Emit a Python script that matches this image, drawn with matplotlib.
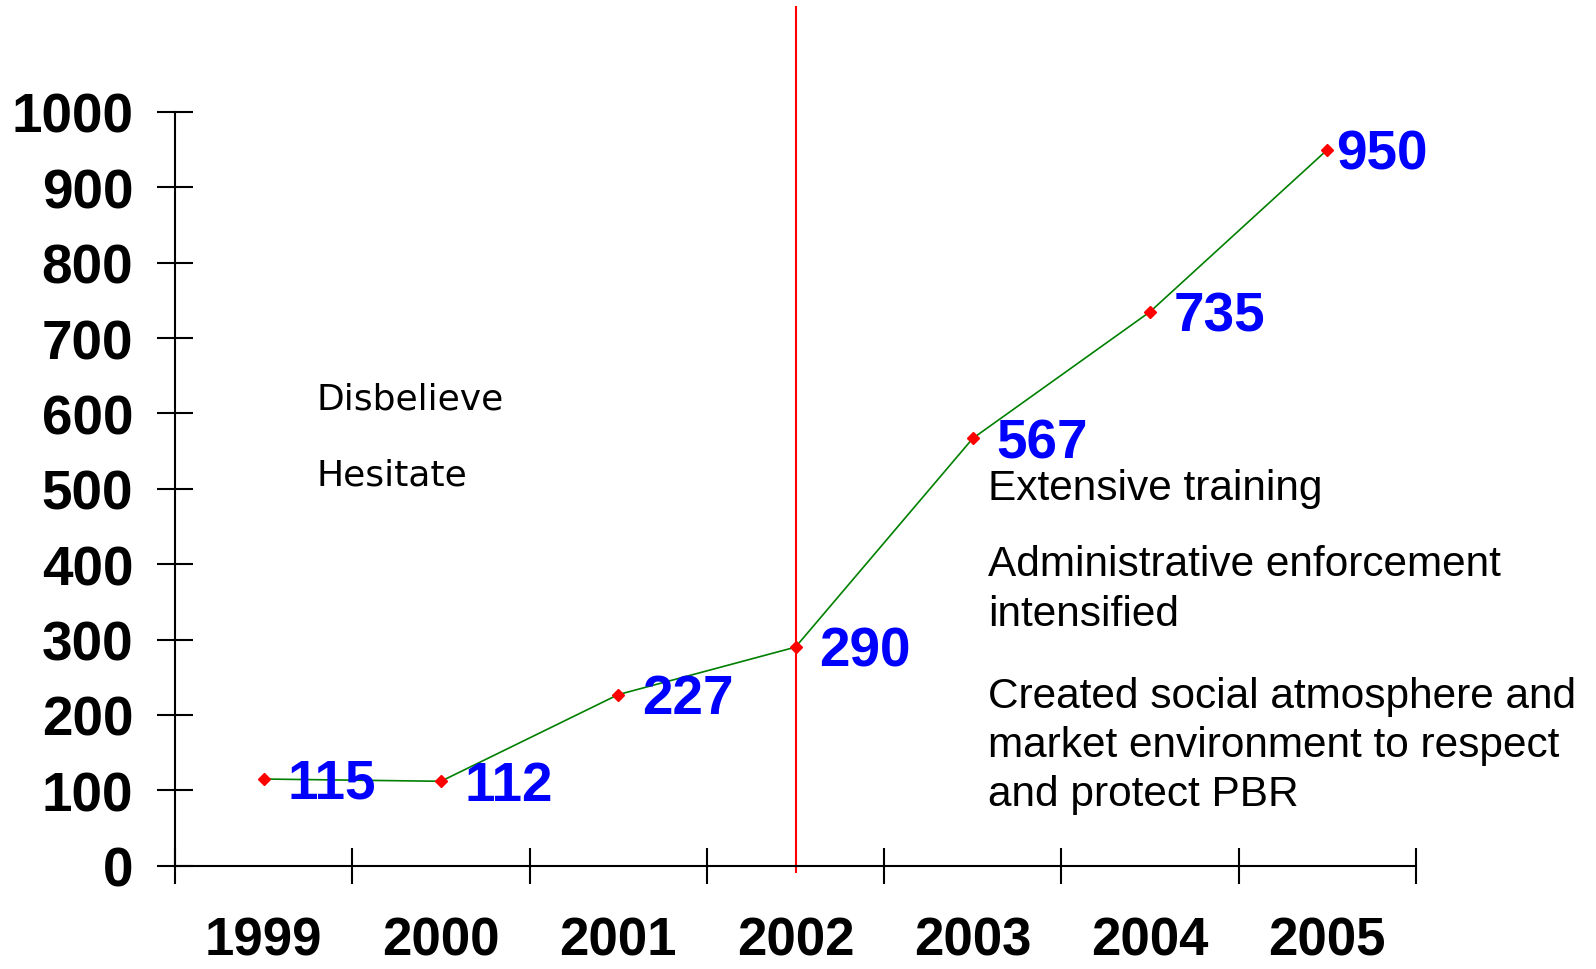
import matplotlib.pyplot as plt
import matplotlib.transforms as mtransforms

# Data
years = ['1999', '2000', '2001', '2002', '2003', '2004', '2005']
values = [115, 112, 227, 290, 567, 735, 950]
y_ticks = [0, 100, 200, 300, 400, 500, 600, 700, 800, 900, 1000]
split_year = '2002'

left_notes = ['Disbelieve', 'Hesitate']
right_notes = ['Extensive training',
               'Administrative enforcement\nintensified',
               'Created social atmosphere and\nmarket environment to respect\nand protect PBR']

W, H = 1596, 970
fig = plt.figure(figsize=(W / 100, H / 100), dpi=100)
ax = fig.add_axes([175 / W, 103.3 / H, (1416 - 175) / W, 753.7 / H])

x = [i + 0.5 for i in range(len(years))]
ax.plot(x, values, color='#008000', lw=1.2, zorder=2)
ax.plot(x, values, linestyle='none', marker='D', ms=6, color='red', zorder=3)

# value labels
for i, v in enumerate(values):
    dx = 6 if i == len(values) - 1 else 17
    ax.annotate(str(v), (x[i], v), xytext=(dx, -3.5), textcoords='offset points',
                ha='left', va='center', color='blue', fontsize=39.5,
                fontweight='bold', family='Liberation Sans', zorder=4)

ax.set_xlim(0, len(years))
ax.set_ylim(0, 1000)
for s in ['top', 'right']:
    ax.spines[s].set_visible(False)
ax.spines['left'].set_linewidth(1.5)
ax.spines['bottom'].set_linewidth(1.5)

ax.set_yticks(y_ticks)
ax.set_yticklabels([str(t) for t in y_ticks], fontsize=39.5, fontweight='bold',
                   family='Liberation Sans')
ax.tick_params(axis='y', direction='inout', length=26, width=1.5, pad=17)

ax.set_xticks(range(len(years) + 1))
ax.set_xticklabels([''] * (len(years) + 1))
ax.tick_params(axis='x', direction='inout', length=26, width=1.5)
for i, yr in enumerate(years):
    ax.text(x[i], -(956 - 866.7) / 753.7, yr, transform=ax.get_xaxis_transform(),
            ha='center', va='baseline', fontsize=38, fontweight='bold',
            family='Liberation Sans')

# vertical divider at 2002
xi = years.index(split_year) + 0.5
trans = mtransforms.blended_transform_factory(ax.transData, fig.transFigure)
ax.plot([xi, xi], [1 - 8 / H, 1 - 873 / H], color='red', lw=1.5,
        transform=trans, clip_on=False, zorder=1)

# notes
for txt, yy in zip(left_notes, [400, 476]):
    fig.text(317 / W, 1 - yy / H, txt, ha='left', va='center', fontsize=26,
             family='DejaVu Sans')
for txt, yy in zip(right_notes, [489, 590, 746]):
    fig.text(988 / W, 1 - yy / H, txt, ha='left', va='center',
             fontsize=30.5, family='Liberation Sans', linespacing=1.3)

fig.savefig('out.png', dpi=100)
